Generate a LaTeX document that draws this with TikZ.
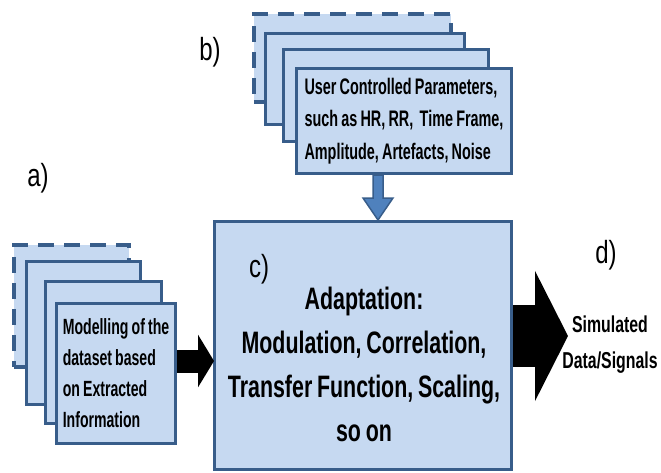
\documentclass[tikz,border=0pt]{standalone}
\usepackage{fontspec}
\setmainfont{Liberation Sans}
\newfontfamily\boxfont[FakeStretch=0.69,WordSpace=0.8]{Liberation Sans}
\newfontfamily\cardfont[FakeStretch=0.64,WordSpace=0.8]{Liberation Sans}
\newfontfamily\labfont[FakeStretch=0.75]{Liberation Sans}
\usepackage{xcolor}
\usetikzlibrary{arrows.meta,calc}
\definecolor{boxfill}{HTML}{C6D9F1}
\definecolor{boxline}{HTML}{385D8A}
\definecolor{arrowblue}{HTML}{4F81BD}

\begin{document}
\begin{tikzpicture}[x=1pt,y=-1pt,
 card/.style={draw=boxline,fill=boxfill,line width=3pt,anchor=north west,inner sep=0pt},
 ghost/.style={card,dash pattern=on 16pt off 10pt,line width=3.5pt},
 lefttxt/.style={font=\cardfont\bfseries\fontsize{22}{31}\selectfont,align=left},
 toptxt/.style={font=\cardfont\bfseries\fontsize{22.5}{32.5}\selectfont,align=left},
 maintxt/.style={font=\boxfont\bfseries\fontsize{31}{44}\selectfont,align=center,inner sep=0pt},
 outtxt/.style={font=\boxfont\bfseries\fontsize{23}{36}\selectfont,align=center,inner sep=0pt},
 lab/.style={font=\labfont\fontsize{32}{36}\selectfont,inner sep=0pt}]
\useasboundingbox (0,0) rectangle (661,472);
\node[ghost,minimum width=115pt,minimum height=122pt] (a0) at (12,243) {};
\node[card,minimum width=114pt,minimum height=143pt] (a1) at (25,260) {};
\node[card,minimum width=116pt,minimum height=142pt] (a2) at (44,280) {};
\node[card,minimum width=119pt,minimum height=140pt,lefttxt] (a3) at (55,302)
 {Modelling of the\\dataset based\\on Extracted\\Information};
\node[ghost,minimum width=197pt,minimum height=88pt] (b0) at (252,12) {};
\node[card,minimum width=199pt,minimum height=91pt] (b1) at (264,32) {};
\node[card,minimum width=205pt,minimum height=92pt] (b2) at (282,48) {};
\node[card,minimum width=215pt,minimum height=105pt,toptxt] (b3) at (295,67)
 {User Controlled Parameters,\\such as HR, RR,~~Time Frame,\\Amplitude, Artefacts, Noise};
\node[card,minimum width=297pt,minimum height=248pt] (c) at (213,220) {};
\node[maintxt] (ctxt) at ($(c.center)+(1,19)$)
 {Adaptation:\\Modulation, Correlation,\\Transfer Function, Scaling,\\so on};
\node[outtxt] (out) at (610,345) {Simulated\\Data/Signals};
\node[lab] (la) at (38,178) {a)};
\node[lab] (lb) at (210,52) {b)};
\node[lab] (lc) at (259,269) {c)};
\node[lab] (ld) at (606,255) {d)};
\coordinate (ain) at (214,361);
\coordinate (bin) at (378,220);
\coordinate (dtip) at (568,336);
\draw[line width=23pt,-{Triangle[length=16pt,width=52pt]}] (ain -| a3.east) -- (ain);
\draw[line width=62pt,-{Triangle[length=33pt,width=129pt]}] (dtip -| c.east) -- (dtip);
\filldraw[draw=boxline,fill=arrowblue,line width=1.5pt]
 ($(bin |- b3.south)+(-5,0)$) -- ($(bin)+(-5,-22)$) -- ($(bin)+(-15,-22)$) -- (bin)
 -- ($(bin)+(15,-22)$) -- ($(bin)+(5,-22)$) -- ($(bin |- b3.south)+(5,0)$) -- cycle;
\end{tikzpicture}
\end{document}
